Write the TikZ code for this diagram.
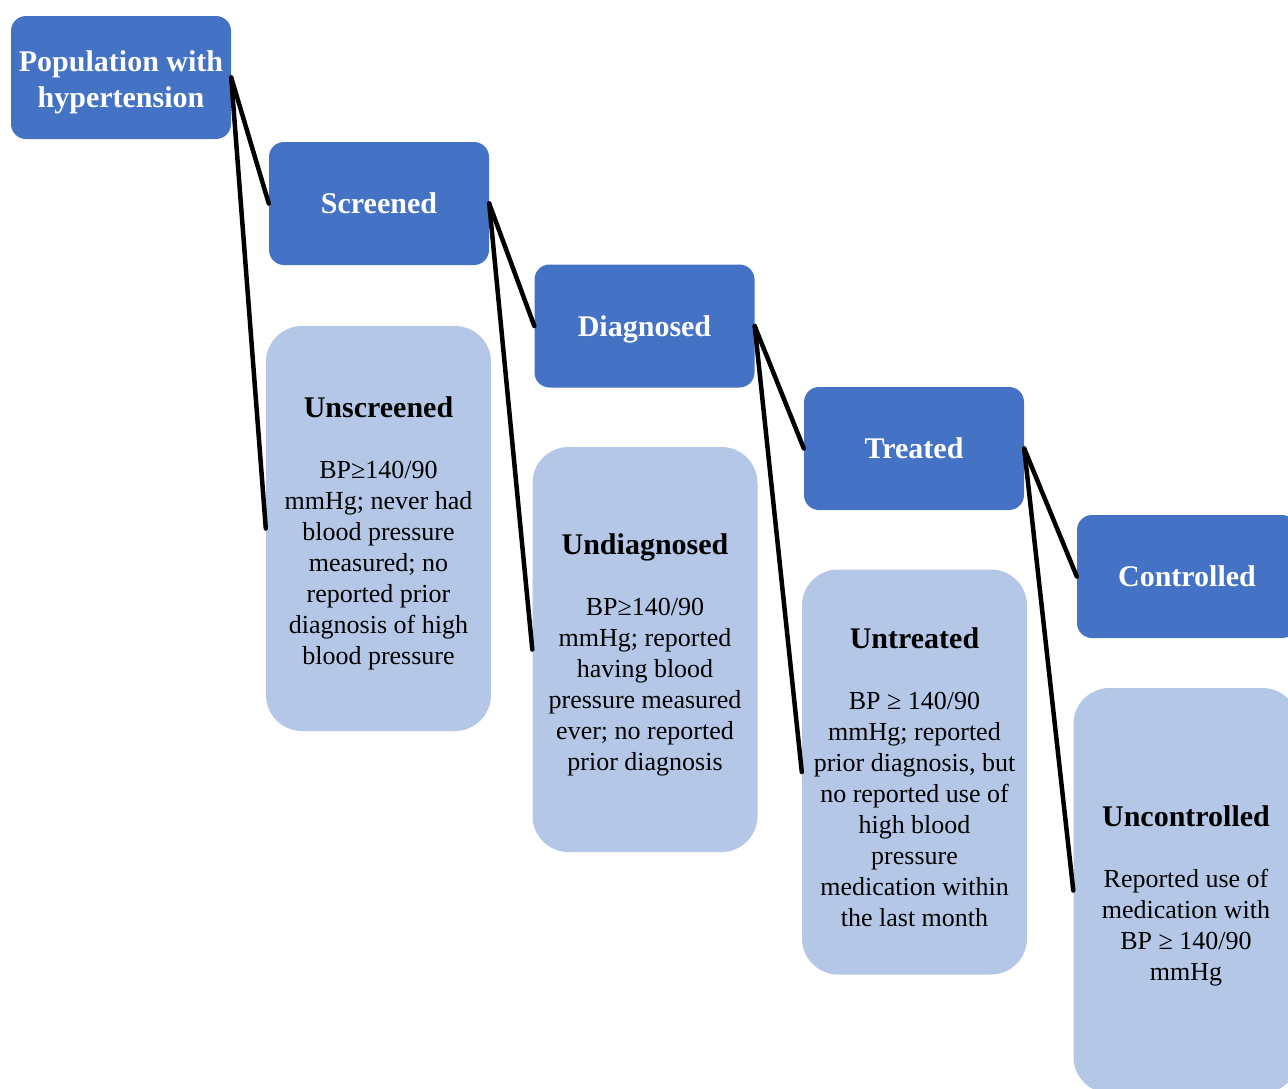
\documentclass[tikz,border=0pt]{standalone}
\usepackage{fontspec}
\setmainfont{Liberation Serif}
\usepackage{tikz}
\definecolor{stageblue}{HTML}{4472C4}
\definecolor{lostblue}{HTML}{B4C7E7}
\tikzset{
	stage/.style={fill=stageblue, rounded corners=15pt, minimum width=220pt, minimum height=123pt, inner sep=0pt, text=white, align=center, font=\fontsize{30}{36}\selectfont\bfseries},
	oneline/.style={text height=20pt, text depth=0pt},
	lost/.style={fill=lostblue, rounded corners=36pt, minimum width=225pt, minimum height=405pt, inner sep=0pt, align=center, font=\fontsize{26}{31}\selectfont},
	link/.style={line width=4.5pt, line cap=round}
}
\def\losttitle#1{{\rule{0pt}{31pt}\fontsize{30}{31}\selectfont\bfseries #1}\\[30pt]}

\begin{document}
\begin{tikzpicture}[x=1pt, y=-1pt]
			%%%%% START %%%%%
			
			\useasboundingbox (0, 0) rectangle (1288, 1088);
			\clip (0, 0) rectangle (1288, 1088);
			
			\node[stage] (pop) at (121, 77.5) {\rule{0pt}{31pt}Population with\\hypertension};
			\node[stage, oneline] (scr) at (379, 203.5) {Screened};
			\node[stage, oneline] (diag) at (644.5, 326) {Diagnosed};
			\node[stage, oneline] (treat) at (914, 448.5) {Treated};
			\node[stage, oneline] (ctrl) at (1187, 576.5) {Controlled};
			
			\node[lost] (unscr) at (378.5, 528.5) {\losttitle{Unscreened}BP≥140/90\\mmHg; never had\\blood pressure\\measured; no\\reported prior\\diagnosis of high\\blood pressure};
			\node[lost] (undiag) at (645, 649.5) {\losttitle{Undiagnosed}BP≥140/90\\mmHg; reported\\having blood\\pressure measured\\ever; no reported\\prior diagnosis};
			\node[lost] (untreat) at (914.5, 772) {\losttitle{Untreated}BP ≥ 140/90\\mmHg; reported\\prior diagnosis, but\\no reported use of\\high blood\\pressure\\medication within\\the last month};
			\node[lost] (unctrl) at (1186, 890.5) {\losttitle{Uncontrolled}Reported use of\\medication with\\BP ≥ 140/90\\mmHg};
			
			\draw[link] (pop.east) -- (scr.west);
			\draw[link] (pop.east) -- (unscr.west);
			\draw[link] (scr.east) -- (diag.west);
			\draw[link] (scr.east) -- (undiag.west);
			\draw[link] (diag.east) -- (treat.west);
			\draw[link] (diag.east) -- (untreat.west);
			\draw[link] (treat.east) -- (ctrl.west);
			\draw[link] (treat.east) -- (unctrl.west);
			
			%%%%% END %%%%%
\end{tikzpicture}
\end{document}
